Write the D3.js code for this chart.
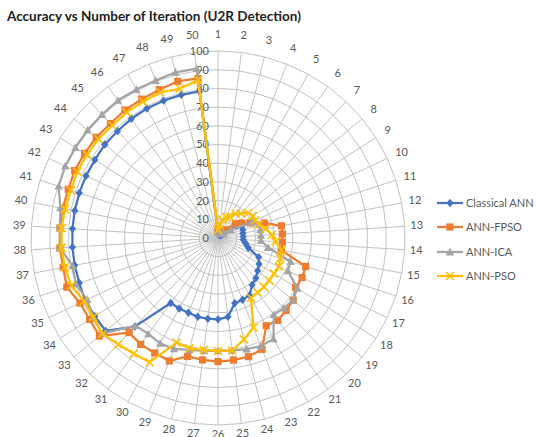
<!DOCTYPE html>
<html><head><meta charset="utf-8">
<script src="https://cdn.jsdelivr.net/npm/d3@7"></script>
<style>
html,body{margin:0;padding:0;background:#fff;}
svg{display:block;font-family:Lato,"Open Sans",sans-serif;}
</style></head>
<body>
<svg id="chart" width="537" height="437"></svg>
<script>
const categories = d3.range(1, 51).map(String);
const radialTicks = [0,10,20,30,40,50,60,70,80,90,100];
const seriesNames = ["Classical ANN","ANN-FPSO","ANN-ICA","ANN-PSO"];
const classicalANN = [3,2,2,2,2,2,2,3,12,14, 14,13.5,13.5,13.5,15,17,24,26,27.5,29.5, 31,35,35.5,36,42.5,43.5,43.5,43.5,43,43, 43,65,78,78,78.5,78,78,78,78,78, 78,78,78,78.5,78.5,78.8,79,79,79,79];
const annFPSO = [5,4,4,4,4.5,5,6,12,15,19, 26,34.5,34.5,34.5,34.5,49.3,49.7,49.2,52.2,53.2, 54.4,53.5,64,65.5,65.8,66.1,65.7,65.4,70.7,70.2, 70.3,69.4,82.3,81.3,81.6,85,84.3,84.7,84.7,84.6, 84.2,84.7,84.5,84.5,84,84.6,84.7,85.3,86.5,86];
const annICA = [3,3,3,3,3,3,3,4,8,20, 23,23,23,23,27.3,40.8,41.3,50.2,52.1,51.4, 50.7,61.6,62.2,61.4,60.7,60.4,60.8,61.7,63.8,64.3, 63.4,64.3,80.3,79,77.3,79.9,79.2,84.7,84.7,85.8, 89.6,90.3,90.3,90.5,90.6,91,90.6,90.6,91.5,91.3];
const annPSO = [4.3,7,10,12,13,16,18,21,22,22, 23,26,29,30.8,34.6,35,36,35.5,35.5,35.9, 36,36.5,51.5,56,60.7,60.4,60.3,60.9,60.2,75.8, 76.5,78,80.3,79,79.2,82.5,83.4,83.8,83.8,83.3, 82.7,83.2,83,83,82.5,83,83.2,83.8,82.4,85.1];

const seriesData = [classicalANN, annFPSO, annICA, annPSO];
const colors = ["#4472C4","#ED7D31","#A5A5A5","#FFC000"];
const markers = ["diamond","square","triangle","x"];

const svg = d3.select("#chart");
const cx = 218, cy = 238, R = 187;
svg.append("rect").attr("width",537).attr("height",437).attr("fill","#fff");

const rScale = d3.scaleLinear().domain([0,100]).range([0,R]);
const aScale = d3.scalePoint().domain(categories).range([0, 2*Math.PI*(categories.length-1)/categories.length]);

const g = svg.append("g").attr("transform",`translate(${cx},${cy})`);
const gridColor = "#c3c3c3";

// ring polygons
const ringLine = d3.lineRadial().angle(d=>aScale(d.c)).radius(d=>rScale(d.v)).curve(d3.curveLinearClosed);
radialTicks.filter(t=>t>0).forEach(t=>{
  g.append("path").attr("d", ringLine(categories.map(c=>({c,v:t}))))
   .attr("fill","none").attr("stroke",gridColor).attr("stroke-width",1);
});
// spokes
categories.forEach(c=>{
  const a = aScale(c);
  g.append("line").attr("x1",0).attr("y1",0)
   .attr("x2", rScale(100)*Math.sin(a)).attr("y2", -rScale(100)*Math.cos(a))
   .attr("stroke",gridColor).attr("stroke-width",1);
});

// category labels
const labG = g.append("g").attr("font-size","11px").attr("fill","#595959");
categories.forEach(c=>{
  const a = aScale(c);
  const s = Math.sin(a), co = Math.cos(a);
  const t = labG.append("text").text(c).attr("text-anchor","middle");
  const w = t.node().getComputedTextLength();
  const h = 8;
  const gap = 5 + (co > 0 ? 8*co : 0);
  const r = R + gap + (w/2)*Math.abs(s) + (h/2)*Math.abs(co);
  t.attr("x", r*s).attr("y", -r*co).attr("dy","0.36em");
});

// radial tick labels
g.append("g").attr("font-size","11px").attr("fill","#595959")
 .selectAll("text").data(radialTicks).join("text")
 .attr("x",-9).attr("y",d=>-rScale(d)).attr("dy","0.36em")
 .attr("text-anchor","end").text(d=>d);

// series
function drawMarker(sel, type, color){
  const s = 3.6;
  if(type==="diamond"){
    sel.append("path").attr("d",`M0,${-s-0.6}L${s},0L0,${s+0.6}L${-s},0Z`).attr("fill",color);
  } else if(type==="square"){
    sel.append("rect").attr("x",-3.6).attr("y",-3.6).attr("width",7.2).attr("height",7.2).attr("fill",color);
  } else if(type==="triangle"){
    sel.append("path").attr("d",`M0,-4.2L4.2,3.4L-4.2,3.4Z`).attr("fill",color);
  } else {
    sel.append("path").attr("d",`M-4,-4L4,4M-4,4L4,-4`).attr("stroke",color).attr("stroke-width",1.6).attr("fill","none");
  }
}
const seriesLine = d3.lineRadial().angle((d,i)=>aScale(categories[i])).radius(d=>rScale(d)).curve(d3.curveLinearClosed);
seriesData.forEach((vals,si)=>{
  const sg = g.append("g");
  sg.append("path").attr("d", seriesLine(vals)).attr("fill","none")
    .attr("stroke",colors[si]).attr("stroke-width",2.25).attr("stroke-linejoin","round");
  vals.forEach((v,i)=>{
    const a = aScale(categories[i]);
    const m = sg.append("g").attr("transform",`translate(${rScale(v)*Math.sin(a)},${-rScale(v)*Math.cos(a)})`);
    drawMarker(m, markers[si], colors[si]);
  });
});

// legend
const legY = [203,227,252,276];
const lg = svg.append("g");
seriesNames.forEach((n,i)=>{
  const row = lg.append("g").attr("transform",`translate(437,${legY[i]})`);
  row.append("line").attr("x1",0).attr("x2",26).attr("y1",0).attr("y2",0).attr("stroke",colors[i]).attr("stroke-width",2.25);
  const m = row.append("g").attr("transform","translate(13,0)");
  drawMarker(m, markers[i], colors[i]);
  row.append("text").attr("x",29).attr("dy","0.36em").attr("font-size","11px").attr("fill","#595959").text(n);
});

// title
const title = svg.append("text").attr("x",7).attr("y",21).attr("font-weight","bold")
  .attr("font-size","14px").attr("fill","#222").text("Accuracy vs Number of Iteration (U2R Detection)");
const tw = title.node().getComputedTextLength();
title.attr("font-size", (14*294/tw).toFixed(2)+"px");
</script>
</body></html>
